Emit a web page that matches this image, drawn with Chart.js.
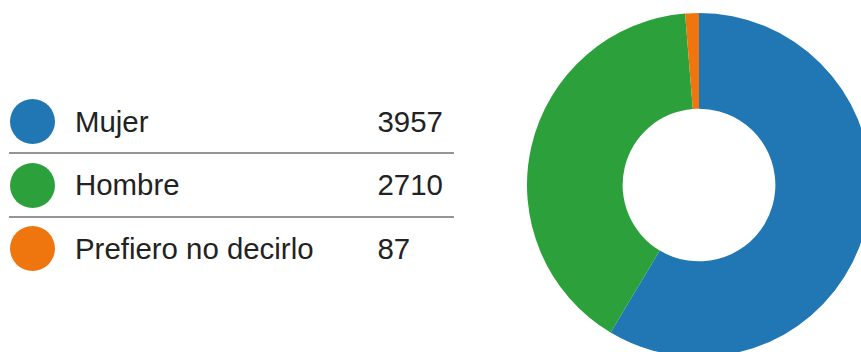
<!DOCTYPE html>
<html>
<head>
<meta charset="utf-8">
<script src="https://cdn.jsdelivr.net/npm/chart.js@4/dist/chart.umd.min.js"></script>
<style>
  html, body { margin: 0; padding: 0; width: 861px; height: 352px; overflow: hidden; background: #fff; }
  body { position: relative; font-family: "Liberation Sans", Arial, sans-serif; color: #222; }
  #legend { position: absolute; left: 9px; top: 90px; width: 445px; }
  .row { position: relative; height: 63.33px; line-height: 63.33px; font-size: 29.4px; }
  .row .dot { position: absolute; left: 1px; top: 9.2px; width: 45px; height: 45px; border-radius: 50%; }
  .row .lab { position: absolute; left: 66px; top: 0; white-space: nowrap; }
  .row .val { position: absolute; left: 368.5px; top: 0; white-space: nowrap; }
  .sep { position: absolute; left: 0; width: 445px; height: 2px; background: #959595; }
  #wrap { position: absolute; left: 527px; top: 13px; width: 344px; height: 344px; }
</style>
</head>
<body>
<div id="legend"></div>
<div id="wrap"><canvas id="c"></canvas></div>
<script>
const categories = ["Mujer", "Hombre", "Prefiero no decirlo"];
const values = [3957, 2710, 87];
const colors = ["#2077b4", "#2ca13b", "#ef760f"];

// Legend table built from the arrays
const legend = document.getElementById("legend");
categories.forEach((cat, i) => {
  const row = document.createElement("div");
  row.className = "row";
  const dot = document.createElement("div");
  dot.className = "dot";
  dot.style.background = colors[i];
  const lab = document.createElement("div");
  lab.className = "lab";
  lab.textContent = cat;
  const val = document.createElement("div");
  val.className = "val";
  val.textContent = String(values[i]);
  row.appendChild(dot); row.appendChild(lab); row.appendChild(val);
  legend.appendChild(row);
  if (i < categories.length - 1) {
    const sep = document.createElement("div");
    sep.className = "sep";
    sep.style.top = ((i + 1) * 63.33 - 1) + "px";
    legend.appendChild(sep);
  }
});

new Chart(document.getElementById("c"), {
  type: "doughnut",
  data: {
    labels: categories,
    datasets: [{
      data: values,
      backgroundColor: colors,
      borderWidth: 0,
      hoverOffset: 0,
      offset: 0
    }]
  },
  options: {
    responsive: true,
    maintainAspectRatio: false,
    animation: false,
    cutout: "44.4%",
    layout: { padding: 0 },
    plugins: {
      legend: { display: false },
      tooltip: { enabled: false }
    }
  }
});
</script>
</body>
</html>
